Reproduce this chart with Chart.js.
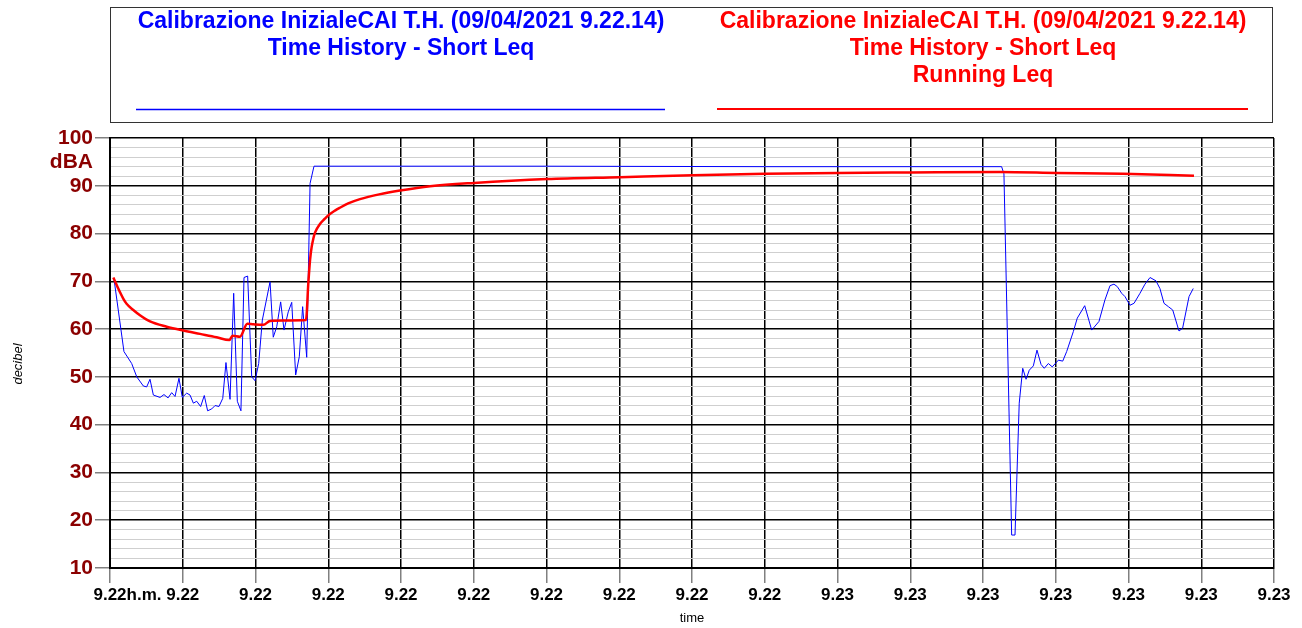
<!DOCTYPE html>
<html>
<head>
<meta charset="utf-8">
<script src="https://cdn.jsdelivr.net/npm/chart.js@4/dist/chart.umd.min.js"></script>
<style>
  html, body { margin: 0; padding: 0; background: #fff; }
  #wrap { width: 1302px; height: 628px; }
</style>
</head>
<body>
<div id="wrap"><canvas id="thChart" width="1302" height="628"></canvas></div>
<script>
// seconds from 9.22.14, x grid every 5 s
var xTickLabels = ["9.22", "9.22", "9.22", "9.22", "9.22", "9.22", "9.22", "9.22", "9.22", "9.22",
                   "9.23", "9.23", "9.23", "9.23", "9.23", "9.23", "9.23"];

var shortLeqTimes = [0.27, 0.96, 1.49, 1.84, 2.29, 2.52, 2.75, 2.98, 3.44, 3.71,
    3.99, 4.24, 4.47, 4.74, 4.97, 5.27, 5.50, 5.73, 5.96, 6.23,
    6.48, 6.71, 6.99, 7.22, 7.49, 7.75, 7.97, 8.25, 8.50, 8.75,
    9.00, 9.21, 9.46, 9.74, 9.97, 10.22, 10.47, 11.00, 11.22, 11.46,
    11.73, 11.96, 12.25, 12.49, 12.76, 13.01, 13.24, 13.52, 13.75, 14.02,
    30, 45, 61.28,
    61.44, 61.97, 62.20, 62.49, 62.73, 62.96, 63.18, 63.46, 63.71, 63.99,
    64.21, 64.49, 64.76, 65.18, 65.48, 65.75, 66.21, 66.48, 66.99, 67.47,
    67.97, 68.38, 68.73, 69.00, 69.23, 69.53, 69.76, 70.10, 70.38, 70.79,
    71.13, 71.48, 71.89, 72.16, 72.44, 72.74, 73.04, 73.47, 73.72, 74.16, 74.45];
var shortLeqValues = [70.6, 55.3, 52.8, 50.0, 48.1, 47.9, 49.5, 46.2, 45.7, 46.3,
    45.6, 46.7, 45.9, 49.7, 45.7, 46.6, 46.2, 44.5, 44.9, 43.8,
    46.1, 42.9, 43.3, 44.0, 43.8, 45.5, 53.0, 45.3, 67.5, 44.9,
    42.9, 70.8, 71.1, 50.0, 49.2, 52.8, 61.9, 69.9, 58.3, 60.5,
    65.7, 59.8, 63.6, 65.6, 50.4, 54.2, 64.7, 54.1, 90.5, 94.1,
    94.1, 94.0, 94.0,
    92.5, 16.9, 16.9, 44.5, 51.8, 49.5, 51.4, 52.3, 55.6, 52.6,
    51.8, 52.8, 52.1, 53.5, 53.3, 55.3, 59.5, 62.3, 64.9, 59.8,
    61.6, 66.1, 69.1, 69.4, 68.9, 67.5, 66.8, 65.0, 65.4, 67.5,
    69.4, 70.8, 70.1, 68.5, 65.4, 64.7, 64.0, 59.6, 60.2, 66.8, 68.5];

var runningLeqTimes = [0.23, 0.55, 0.91, 1.14, 1.60, 2.06, 2.75, 3.90, 5.04, 6.19,
    7.33, 8.20, 8.43, 8.93, 9.44, 9.85, 10.54, 11.00, 11.91, 13.47,
    13.63, 13.75, 13.86, 13.98, 14.09, 14.43, 14.77, 15.00, 15.46, 15.80,
    16.37, 17.18, 18.50, 19.93, 22.00, 25.02, 30.03,
    35.05, 40.07, 45.02, 50.03, 55.05, 61.17, 65.06, 69.62, 74.50];
var runningLeqValues = [70.8, 68.6, 66.4, 65.3, 64.0, 62.9, 61.6, 60.5, 59.7, 59.0,
    58.3, 57.7, 58.6, 58.4, 61.1, 61.0, 60.9, 61.7, 61.8, 61.9,
    69.6, 74.5, 77.2, 79.0, 80.2, 82.0, 83.1, 83.8, 84.8, 85.4,
    86.3, 87.2, 88.2, 89.0, 89.9, 90.6, 91.4,
    91.8, 92.2, 92.5, 92.7, 92.8, 92.9, 92.7, 92.5, 92.1];

var titleLines = ["Calibrazione InizialeCAI T.H. (09/04/2021 9.22.14)", "Time History - Short Leq", "Running Leq"];

function toPoints(xs, ys) {
    return xs.map(function(x, i) { return { x: x, y: ys[i] }; });
}

var font = '"Liberation Sans", Arial, sans-serif';

// legend box on top plus the extra axis texts
var extras = {
    id: "extras",
    afterDraw: function(chart) {
        var ctx = chart.ctx;
        ctx.save();
        ctx.strokeStyle = "#333";
        ctx.lineWidth = 1;
        ctx.strokeRect(110.5, 7.5, 1162, 115);

        ctx.font = "bold 23px " + font;
        ctx.textAlign = "center";
        ctx.textBaseline = "middle";
        ctx.fillStyle = "#0000ff";
        ctx.fillText(titleLines[0], 401, 22);
        ctx.fillText(titleLines[1], 401, 49);
        ctx.fillStyle = "#ff0000";
        ctx.fillText(titleLines[0], 983, 22);
        ctx.fillText(titleLines[1], 983, 49);
        ctx.fillText(titleLines[2], 983, 76);

        ctx.strokeStyle = "#0000ff";
        ctx.lineWidth = 1.3;
        ctx.beginPath(); ctx.moveTo(136, 109.5); ctx.lineTo(665, 109.5); ctx.stroke();
        ctx.strokeStyle = "#ff0000";
        ctx.lineWidth = 2;
        ctx.beginPath(); ctx.moveTo(717, 109); ctx.lineTo(1248, 109); ctx.stroke();

        // unit under the top tick
        ctx.font = "bold 21px " + font;
        ctx.fillStyle = "#8b0000";
        ctx.textAlign = "right";
        ctx.fillText("dBA", 93, 162);

        // h.m. after first time label
        ctx.font = "bold 17px " + font;
        var w = ctx.measureText(xTickLabels[0]).width;
        ctx.fillStyle = "#000";
        ctx.textAlign = "left";
        ctx.fillText("h.m.", chart.chartArea.left + w / 2, 595);

        // y title
        ctx.font = "italic 13px " + font;
        ctx.translate(18, 364);
        ctx.rotate(-Math.PI / 2);
        ctx.textAlign = "center";
        ctx.fillText("decibel", 0, 0);
        ctx.restore();
    }
};

document.addEventListener("DOMContentLoaded", function() {
    var ctx = document.getElementById("thChart").getContext("2d");
    new Chart(ctx, {
        type: "line",
        data: {
            datasets: [{
                label: "Running Leq",
                data: toPoints(runningLeqTimes, runningLeqValues),
                borderColor: "#ff0000",
                borderWidth: 2.5,
                pointRadius: 0,
                cubicInterpolationMode: "monotone",
                order: 0
            }, {
                label: "Short Leq",
                data: toPoints(shortLeqTimes, shortLeqValues),
                borderColor: "#0000ff",
                borderWidth: 1,
                pointRadius: 0,
                tension: 0,
                order: 1
            }]
        },
        options: {
            responsive: false,
            animation: false,
            layout: { padding: { top: 138, right: 28, left: 0, bottom: 0 } },
            plugins: {
                legend: { display: false },
                tooltip: { enabled: false }
            },
            scales: {
                x: {
                    type: "linear",
                    min: 0,
                    max: 80,
                    afterFit: function(scale) { scale.height = 60; },
                    ticks: {
                        stepSize: 5,
                        autoSkip: false,
                        maxRotation: 0,
                        padding: 2,
                        color: "#000",
                        font: { family: font, size: 17, weight: "bold" },
                        callback: function(v, i) { return xTickLabels[i]; }
                    },
                    grid: {
                        color: "#000",
                        lineWidth: 1.5,
                        tickLength: 15,
                        tickColor: "#808080",
                        tickWidth: 1.5
                    },
                    border: { color: "#000", width: 2 },
                    title: {
                        display: true,
                        text: "time",
                        color: "#000",
                        font: { family: font, size: 13 },
                        padding: { top: 0, bottom: 2 }
                    }
                },
                y: {
                    min: 10,
                    max: 100,
                    afterFit: function(scale) { scale.width = 110; },
                    ticks: {
                        stepSize: 2,
                        autoSkip: false,
                        padding: 2,
                        color: "#8b0000",
                        font: { family: font, size: 21, weight: "bold" },
                        callback: function(v) { return v % 10 === 0 ? v : ""; }
                    },
                    grid: {
                        color: function(c) { return c.tick && c.tick.value % 10 === 0 ? "#000" : "#cfcfcf"; },
                        lineWidth: function(c) { return c.tick && c.tick.value % 10 === 0 ? 1.5 : 1; },
                        tickLength: 15,
                        tickColor: function(c) { return c.tick && c.tick.value % 10 === 0 ? "#808080" : "rgba(0,0,0,0)"; },
                        tickWidth: 1.5
                    },
                    border: { color: "#000", width: 2 }
                }
            }
        },
        plugins: [extras]
    });
});
</script>
</body>
</html>
